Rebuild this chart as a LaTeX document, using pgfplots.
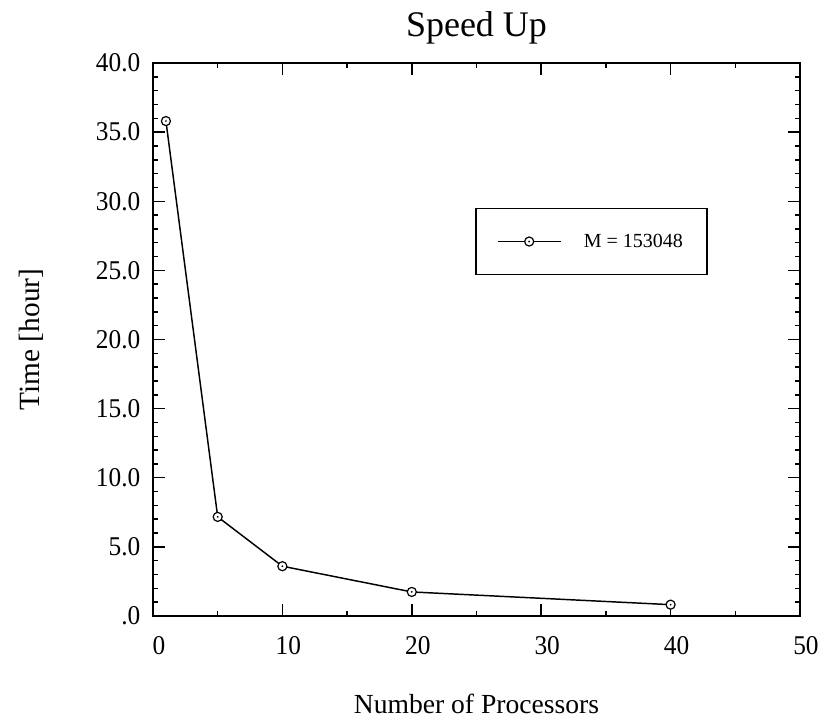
\documentclass[border=0pt]{standalone}
\usepackage{fontspec}
\setmainfont{Liberation Serif}
\usepackage{pgfplots}
\pgfplotsset{compat=1.18}
\pgfdeclareplotmark{odot}{%
  \pgfpathcircle{\pgfpoint{0pt}{0pt}}{\pgfplotmarksize}%
  \pgfsetfillcolor{white}\pgfusepathqfillstroke
  \pgfpathcircle{\pgfpoint{0pt}{0pt}}{0.22\pgfplotmarksize}%
  \pgfsetfillcolor{black}\pgfusepathqfill}
\begin{document}
\begin{tikzpicture}
\path[use as bounding box] (-114.75pt,-81pt) rectangle (501pt,462pt);
\begin{axis}[
  scale only axis,
  width=485.25pt, height=414.75pt,
  xmin=0, xmax=50, ymin=0, ymax=40,
  axis line style={line width=1.3pt},
  tick style={line width=1.1pt, black},
  tick align=inside,
  xtick={0,10,20,30,40,50},
  xticklabels={0,10,20,30,40,50},
  minor xtick={5,15,25,35,45},
  ytick={0,5,10,15,20,25,30,35,40},
  yticklabels={.0,5.0,10.0,15.0,20.0,25.0,30.0,35.0,40.0},
  minor ytick={1,2,3,4,6,7,8,9,11,12,13,14,16,17,18,19,21,22,23,24,26,27,28,29,31,32,33,34,36,37,38,39},
  major tick length=9pt,
  minor tick length=3.5pt,
  /pgf/number format/assume math mode=true,
  ticklabel style={font=\fontsize{19}{22}\selectfont, yscale=1.07},
  xticklabel style={yshift=-10.5pt, xshift=4.5pt},
  yticklabel style={xshift=-6pt},
  title={Speed Up},
  title style={font=\fontsize{27}{30}\selectfont, at={(0.5,1)}, anchor=base, yshift=14pt},
  xlabel={Number of Processors},
  xlabel style={font=\fontsize{20.7}{24}\selectfont, at={(0.5,0)}, anchor=base, yshift=-73pt},
  ylabel={Time [hour]},
  ylabel style={font=\fontsize{22}{25}\selectfont, at={(0,0.5)}, anchor=base, rotate=0, yshift=85pt},
  legend style={at={(0.498,0.738)}, anchor=north west, draw=black, line width=1pt,
    font=\fontsize{15}{18}\selectfont, inner xsep=16pt, inner ysep=17pt, column sep=15pt},
  legend cell align=left,
  legend image code/.code={%
    \draw[mark repeat=2, mark phase=2, line width=1pt] plot coordinates {(0pt,0pt) (23.5pt,0pt) (47pt,0pt)};},
]
\addplot[black, line width=1.1pt, mark=odot, mark size=3.4pt, mark options={line width=0.9pt}]
  coordinates {(1,35.8) (5,7.17) (10,3.6) (20,1.74) (40,0.82)};
\addlegendentry{M = 153048\hspace{6pt}}
\end{axis}
\end{tikzpicture}
\end{document}
